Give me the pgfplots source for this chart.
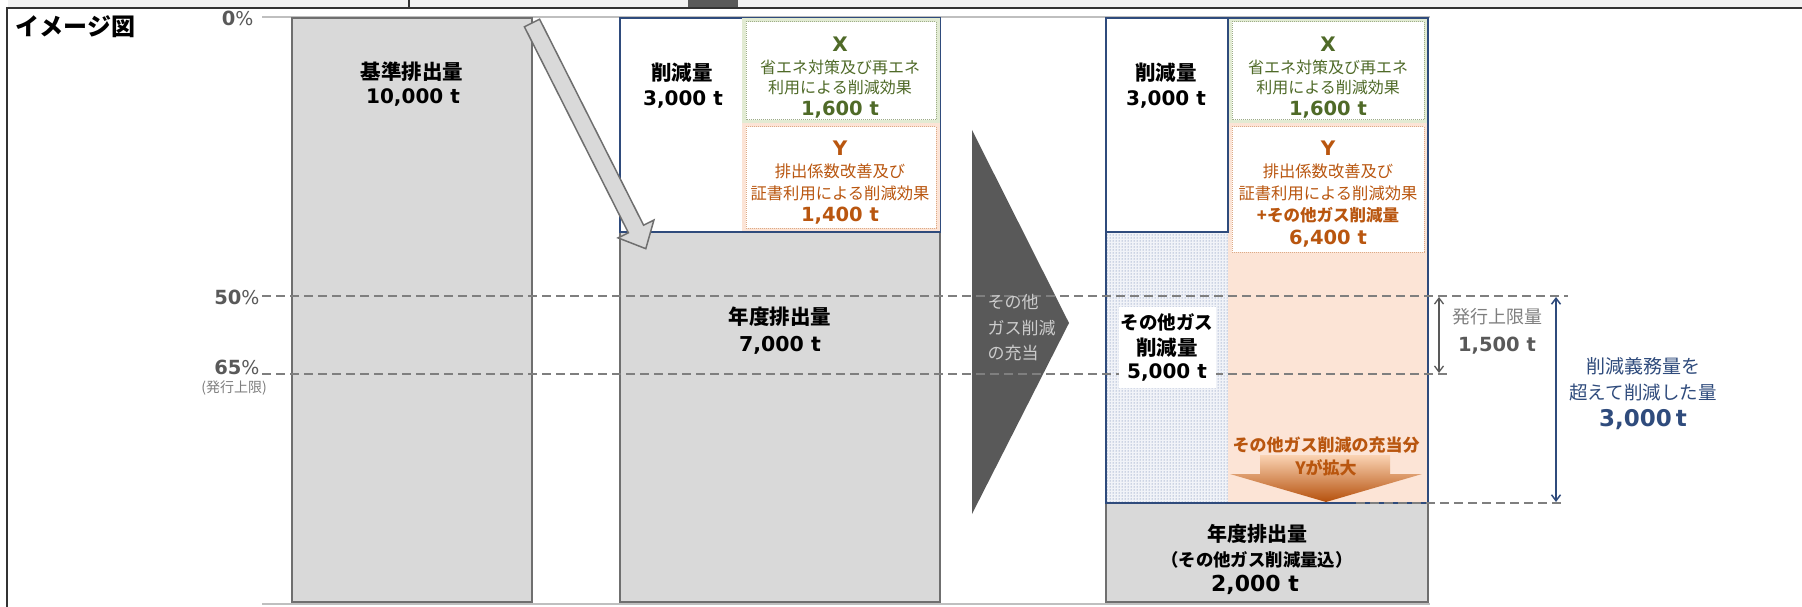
\documentclass[border=0pt]{standalone}
\usepackage{pgfplots}
\pgfplotsset{compat=1.18}
\usepackage{fontspec}
\setmainfont{DejaVu Sans}
\newfontfamily\jp{Noto Sans CJK JP}
\usetikzlibrary{patterns,arrows.meta}
\definecolor{navy}{HTML}{2F4B7C}
\definecolor{grayfill}{HTML}{D9D9D9}
\definecolor{grayline}{HTML}{6F6F6F}
\definecolor{ggreen}{HTML}{4F6A28}
\definecolor{gbrown}{HTML}{B9560F}
\definecolor{lgreen}{HTML}{E2EBD3}
\definecolor{lorange}{HTML}{FCE4D6}
\definecolor{dgray}{HTML}{595959}
\definecolor{mgray}{HTML}{7F7F7F}
\definecolor{arrtop}{HTML}{FAD3B3}
\definecolor{arrmid}{HTML}{F39A55}
\definecolor{arrbot}{HTML}{B5500C}
\definecolor{dotc}{HTML}{4F6A9E}
\definecolor{dotbg}{HTML}{F1F3F8}
\newcommand{\fs}[1]{\fontsize{#1}{#1}\selectfont}
\newcommand{\R}[5]{\addplot[mark=none,#5] coordinates {(#1,#2) (#3,#2) (#3,#4) (#1,#4)} -- cycle;}
\begin{document}
\begin{tikzpicture}
\begin{axis}[name=ax, at={(0,0)}, anchor=south west,
  width=1802pt, height=607pt, scale only axis,
  xmin=0, xmax=1802, ymin=0, ymax=607, y dir=reverse,
  axis lines=none, clip=false,
  every node/.style={inner sep=0pt}]
% frame
\R{8}{0}{1802}{8}{fill=black!5, draw=none}
\R{688}{0}{738}{8}{fill=dgray, draw=none}
\addplot[mark=none, draw=black!80, line width=2pt] coordinates {(7,607) (7,8) (1802,8)};
\addplot[mark=none, draw=black!80, line width=1.2pt] coordinates {(409,0) (409,8)};
% baseline and top line
\addplot[mark=none, draw=black!25, line width=2pt] coordinates {(262,17) (1430,17)};
\addplot[mark=none, draw=black!25, line width=2pt] coordinates {(262,604) (1430,604)};
% bar 1
\R{292}{18}{532}{602}{fill=grayfill, draw=grayline, line width=1.5pt}
% bar 2
\R{620}{232}{940}{602}{fill=grayfill, draw=grayline, line width=1.5pt}
\R{620}{18}{940}{232}{fill=white, draw=navy, line width=1.5pt}
\R{742}{18}{940}{123}{fill=lgreen, draw=none}
\R{746}{22}{936}{120}{fill=white, draw=ggreen!55, densely dotted, line width=1pt}
\R{742}{123}{940}{232}{fill=lorange, draw=none}
\R{746}{127}{936}{228}{fill=white, draw=gbrown!50, densely dotted, line width=1pt}
\addplot[mark=none, draw=navy, line width=1.5pt] coordinates {(620,232) (940,232)};
% chevron
\addplot[mark=none, fill=dgray, draw=none] coordinates {(972,130) (1069,323) (972,514)} -- cycle;
% bar 3
\R{1106}{503}{1428}{602}{fill=grayfill, draw=grayline, line width=1.5pt}
\R{1106}{232}{1228}{503}{fill=dotbg, draw=none}
\R{1106}{232}{1228}{503}{pattern=dots, pattern color=dotc, draw=none}
\R{1228}{18}{1428}{123}{fill=lgreen, draw=none}
\R{1232}{22}{1424}{120}{fill=white, draw=ggreen!55, densely dotted, line width=1pt}
\R{1228}{123}{1428}{503}{fill=lorange, draw=none}
\R{1232}{127}{1424}{252}{fill=white, draw=gbrown!50, densely dotted, line width=1pt}
\R{1106}{18}{1428}{503}{draw=navy, line width=1.5pt}
\addplot[mark=none, draw=navy, line width=1.5pt] coordinates {(1106,232) (1228,232) (1228,18)};
% orange arrow
\addplot[mark=none, draw=none, top color=arrtop, middle color=arrmid, bottom color=arrbot] coordinates {(1260,455) (1390,455) (1390,474) (1422,474) (1326,502) (1230,474) (1260,474)} -- cycle;
% dashed lines
\addplot[mark=none, draw=mgray, line width=1.6pt, dash pattern=on 9pt off 5pt] coordinates {(262,296) (1568,296)};
\addplot[mark=none, draw=mgray, line width=1.6pt, dash pattern=on 9pt off 5pt] coordinates {(262,374) (1450,374)};
\addplot[mark=none, draw=mgray, line width=1.6pt, dash pattern=on 9pt off 5pt] coordinates {(1356,503) (1564,503)};
% white patch behind other-gas label
\R{1119}{307}{1216}{388}{fill=white, draw=none}
% diagonal arrow
\addplot[mark=none, fill=grayfill, draw=grayline, line width=1.5pt, line join=miter] coordinates {(524.4,26.8) (539.6,19.2) (643.6,225.2) (653.9,220.1) (645.8,248.7) (618.1,237.9) (628.4,232.8)} -- cycle;
% double arrows
\addplot[mark=none, draw=dgray, line width=1.3pt, {Straight Barb[length=6pt,width=9pt]}-{Straight Barb[length=6pt,width=9pt]}] coordinates {(1439,297) (1439,373)};
\addplot[mark=none, draw=navy, line width=1.5pt, {Straight Barb[length=6pt,width=9pt]}-{Straight Barb[length=6pt,width=9pt]}] coordinates {(1556,297) (1556,502)};
% ---- texts ----
\node[anchor=west] at (axis cs:12,27) {\jp\bfseries\fs{24}イメージ図};
\node[anchor=east, text=dgray] at (axis cs:257,18) {{\fs{19.5}\bfseries 0}{\fs{19}\%}};
\node[anchor=east, text=dgray] at (axis cs:263,297) {{\fs{19.5}\bfseries 50}{\fs{19}\%}};
\node[anchor=east, text=dgray] at (axis cs:263,367) {{\fs{19.5}\bfseries 65}{\fs{19}\%}};
\node[text=mgray] at (axis cs:234,388) {\jp\fs{14}(発行上限)};
% bar1
\node at (axis cs:412,72) {\jp\bfseries\fs{20.5}基準排出量};
\node at (axis cs:413,97) {\bfseries\fs{20}10,000 t};
% bar2
\node at (axis cs:682,73) {\jp\bfseries\fs{20.5}削減量};
\node at (axis cs:683,99) {\bfseries\fs{20}3,000 t};
\node[text=ggreen] at (axis cs:840,44) {\bfseries\fs{20}X};
\node[text=ggreen] at (axis cs:840,67) {\jp\fs{16}省エネ対策及び再エネ};
\node[text=ggreen] at (axis cs:840,87) {\jp\fs{16}利用による削減効果};
\node[text=ggreen] at (axis cs:840,110) {\bfseries\fs{19.5}1,600 t};
\node[text=gbrown] at (axis cs:840,148) {\bfseries\fs{20}Y};
\node[text=gbrown] at (axis cs:840,171) {\jp\fs{16.3}排出係数改善及び};
\node[text=gbrown] at (axis cs:840,193) {\jp\fs{16.3}証書利用による削減効果};
\node[text=gbrown] at (axis cs:840,216) {\bfseries\fs{19.5}1,400 t};
\node at (axis cs:780,317) {\jp\bfseries\fs{20.5}年度排出量};
\node at (axis cs:780,345) {\bfseries\fs{20.5}7,000 t};
% chevron text
\node[anchor=west, text=black!20] at (axis cs:984,302) {\jp\fs{17}その他};
\node[anchor=west, text=black!20] at (axis cs:984,328) {\jp\fs{17}ガス削減};
\node[anchor=west, text=black!20] at (axis cs:984,353) {\jp\fs{17}の充当};
% bar3
\node at (axis cs:1166,73) {\jp\bfseries\fs{20.5}削減量};
\node at (axis cs:1166,99) {\bfseries\fs{20}3,000 t};
\node[text=ggreen] at (axis cs:1328,44) {\bfseries\fs{20}X};
\node[text=ggreen] at (axis cs:1328,67) {\jp\fs{16}省エネ対策及び再エネ};
\node[text=ggreen] at (axis cs:1328,87) {\jp\fs{16}利用による削減効果};
\node[text=ggreen] at (axis cs:1328,110) {\bfseries\fs{19.5}1,600 t};
\node[text=gbrown] at (axis cs:1328,148) {\bfseries\fs{20}Y};
\node[text=gbrown] at (axis cs:1328,171) {\jp\fs{16.3}排出係数改善及び};
\node[text=gbrown] at (axis cs:1328,193) {\jp\fs{16.3}証書利用による削減効果};
\node[text=gbrown] at (axis cs:1328,215) {\jp\bfseries\fs{16.5}+その他ガス削減量};
\node[text=gbrown] at (axis cs:1328,239) {\bfseries\fs{19.5}6,400 t};
\node at (axis cs:1167,322) {\jp\bfseries\fs{18.5}その他ガス};
\node at (axis cs:1167,348) {\jp\bfseries\fs{20.5}削減量};
\node at (axis cs:1167,372) {\bfseries\fs{20}5,000 t};
\node[text=gbrown] at (axis cs:1326,445) {\jp\bfseries\fs{17}その他ガス削減の充当分};
\node[text=gbrown] at (axis cs:1326,468) {\jp\bfseries\fs{17}Yが拡大};
\node at (axis cs:1257,534) {\jp\bfseries\fs{20}年度排出量};
\node at (axis cs:1257,560) {\jp\bfseries\fs{17.4}（その他ガス削減量込）};
\node at (axis cs:1255,585) {\bfseries\fs{22}2,000 t};
% right annotations
\node[text=mgray] at (axis cs:1497,317) {\jp\fs{18}発行上限量};
\node[text=dgray] at (axis cs:1497,346) {\bfseries\fs{19.5}1,500 t};
\node[text=navy] at (axis cs:1643,366) {\jp\fs{19}削減義務量を};
\node[text=navy] at (axis cs:1643,392) {\jp\fs{18.5}超えて削減した量};
\node[text=navy] at (axis cs:1643,420) {\bfseries\fs{23}3,000\,t};
\end{axis}
\pgfresetboundingbox
\path (ax.south west) rectangle (ax.north east);
\end{tikzpicture}
\end{document}
